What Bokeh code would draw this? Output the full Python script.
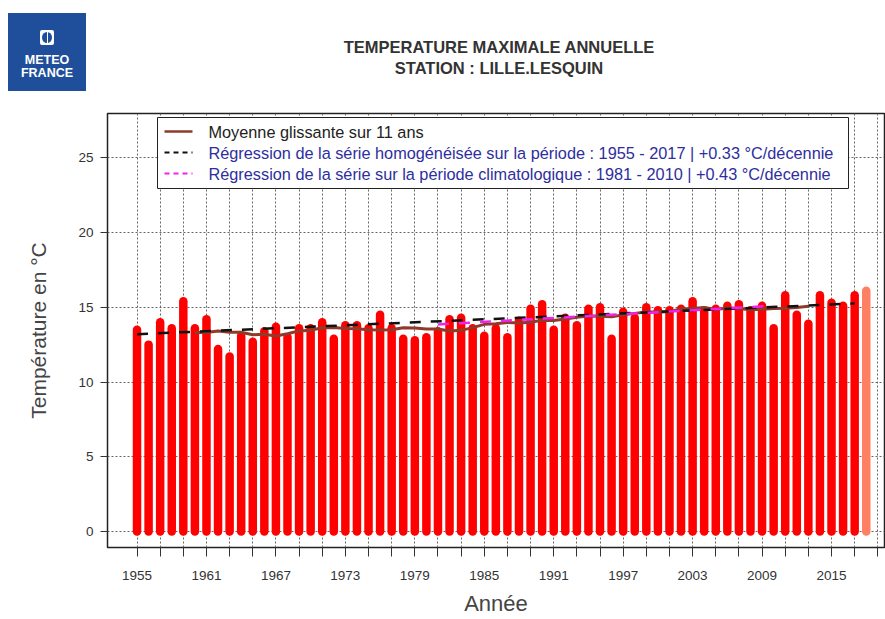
import numpy as np
import pandas as pd
from bokeh.plotting import figure
from bokeh.layouts import column
from bokeh.models import Range1d, FixedTicker, ColumnDataSource, Div
from bokeh.core.properties import value
from bokeh.embed import file_html
from bokeh.resources import INLINE

# ---------------- data ----------------
years = list(range(1955, 2019))
tmax = [13.5, 12.5, 14.0, 13.6, 15.4, 13.6, 14.2, 12.2, 11.7, 13.1,
        12.7, 13.4, 13.7, 13.0, 13.6, 13.6, 14.0, 12.9, 13.8, 13.8,
        13.6, 14.5, 13.6, 12.9, 12.8, 13.0, 13.4, 14.2, 14.3, 13.6,
        13.1, 13.6, 13.0, 14.1, 14.9, 15.2, 13.5, 14.3, 13.8, 14.9,
        15.0, 12.9, 14.7, 14.3, 15.0, 14.8, 14.8, 14.9, 15.4, 14.8,
        14.9, 15.1, 15.2, 14.8, 15.1, 13.6, 15.8, 14.5, 13.9, 15.8,
        15.3, 15.1, 15.8, 16.1]
provisional_years = [2018]
reg_hom_years = [1955, 2017]
reg_hom_values = [13.2, 15.25]
reg_clim_years = [1981, 2010]
reg_clim_values = [13.85, 15.1]
ma_window = 11

x_tick_years = list(range(1955, 2021, 2))
x_label_years = list(range(1955, 2016, 6))
y_ticks = [0, 5, 10, 15, 20, 25]

legend_labels = ["Moyenne glissante sur 11 ans",
                 "R\u00e9gression de la s\u00e9rie homog\u00e9n\u00e9is\u00e9e sur la p\u00e9riode : 1955 - 2017 | +0.33 \u00b0C/d\u00e9cennie",
                 "R\u00e9gression de la s\u00e9rie sur la p\u00e9riode climatologique : 1981 - 2010 | +0.43 \u00b0C/d\u00e9cennie"]
title_lines = ["TEMPERATURE MAXIMALE ANNUELLE", "STATION : LILLE.LESQUIN"]
logo_lines = ["METEO", "FRANCE"]

# ---------------- styles ----------------
FONT = value("Liberation Sans")
BAR_RED = "#ff0000"
BAR_PROV = "#ff7f62"
MA_COL = "#8e3b2c"
HOM_COL = "#111111"
CLIM_COL = "#f022f0"
LEG_BLUE = "#2e2e9e"
LOGO_BLUE = "#1f4f9a"

W = 885
HDR_H = 108
MAIN_H = 511
# frame geometry (page px)
FR_L, FR_R, FR_T, FR_B = 107, 884, 113, 547
X0 = 1952.45
PX_PER_YEAR = 11.575
X1 = X0 + (FR_R - FR_L) / PX_PER_YEAR
PX_PER_DEG = 14.95
Y_ZERO_PX = 531
Y0 = (Y_ZERO_PX - FR_B) / PX_PER_DEG
Y1 = (Y_ZERO_PX - FR_T) / PX_PER_DEG


def dx(px):
    return X0 + (px - FR_L) / PX_PER_YEAR


def dy(py):
    return (Y_ZERO_PX - py) / PX_PER_DEG


# ---------------- header (logo + title) ----------------
hdr_html = (
    '<div style="position:relative;width:%dpx;height:%dpx;font-family:\'Liberation Sans\',Arial,sans-serif;">' % (W, HDR_H)
    + '<div style="position:absolute;left:8px;top:13px;width:78px;height:78px;background:%s;"></div>' % LOGO_BLUE
    + '<div style="position:absolute;left:40px;top:30px;width:14px;height:15px;background:white;border-radius:2px;"></div>'
    + '<div style="position:absolute;left:42px;top:32px;width:10px;height:11px;border-radius:50%%;background:%s;"></div>' % LOGO_BLUE
    + '<div style="position:absolute;left:46.5px;top:32px;width:1.5px;height:11px;background:white;"></div>'
    + '<div style="position:absolute;left:8px;top:54px;width:78px;text-align:center;color:white;'
      'font-weight:bold;font-size:12.5px;line-height:13px;white-space:nowrap;">%s<br>%s</div>' % tuple(logo_lines)
    + '<div style="position:absolute;left:249px;top:37px;width:500px;text-align:center;color:#333333;'
      'font-weight:bold;font-size:16.5px;line-height:21px;white-space:nowrap;">%s<br>%s</div>' % tuple(title_lines)
    + '</div>'
)
hdr = Div(text=hdr_html, width=W, height=HDR_H, margin=0)

# ---------------- main plot ----------------
p = figure(width=W, height=MAIN_H, x_range=Range1d(X0, X1), y_range=Range1d(Y0, Y1),
           output_backend="svg", toolbar_location=None,
           min_border_left=FR_L, min_border_right=W - FR_R,
           min_border_top=FR_T - HDR_H, min_border_bottom=HDR_H + MAIN_H - FR_B)
p.title.visible = False
p.outline_line_color = "#222222"
p.outline_line_width = 1.5
p.background_fill_color = "white"
p.border_fill_color = "white"

# axes
p.xaxis.ticker = FixedTicker(ticks=x_tick_years)
p.xaxis.major_label_overrides = {yr: (str(yr) if yr in x_label_years else "") for yr in x_tick_years}
p.yaxis.ticker = FixedTicker(ticks=y_ticks)
for ax in (p.xaxis[0], p.yaxis[0]):
    ax.axis_line_color = None
    ax.major_tick_in = 0
    ax.minor_tick_line_color = None
    ax.major_tick_line_color = "#333333"
    ax.major_label_text_font = "Liberation Sans"
    ax.major_label_text_font_size = "13.5px"
    ax.major_label_text_color = "#333333"
    ax.axis_label_text_font = "Liberation Sans"
    ax.axis_label_text_font_style = "normal"
    ax.axis_label_text_color = "#444444"
p.xaxis.major_tick_out = 9
p.xaxis.major_label_standoff = 14
p.xaxis.axis_label = "Ann\u00e9e"
p.xaxis.axis_label_text_font_size = "22px"
p.xaxis.axis_label_standoff = 8
p.yaxis.major_tick_out = 7
p.yaxis.major_label_standoff = 7
p.yaxis.axis_label = "Temp\u00e9rature en \u00b0C"
p.yaxis.axis_label_text_font_size = "21px"
p.yaxis.axis_label_standoff = 25

p.xgrid.ticker = FixedTicker(ticks=x_tick_years)
p.ygrid.ticker = FixedTicker(ticks=y_ticks)
p.grid.grid_line_color = "#666666"
p.grid.grid_line_dash = "2 2"
p.grid.grid_line_width = 1

# bars (thick round-capped vertical lines, like R type="h")
df = pd.DataFrame({"year": years, "tmax": tmax})
df["color"] = [BAR_PROV if y in provisional_years else BAR_RED for y in years]
df["zero"] = 0.0
src = ColumnDataSource(df)
p.segment(x0="year", y0="zero", x1="year", y1="tmax", source=src,
          line_color="color", line_width=8.5, line_cap="round")

# moving average (11 years, centred) computed from the plotted values
ma = df["tmax"].rolling(ma_window, center=True).mean()
ma_df = pd.DataFrame({"year": df["year"], "ma": ma}).dropna()
p.line(x="year", y="ma", source=ColumnDataSource(ma_df), line_color=MA_COL, line_width=3)

# regressions
p.line(x=reg_hom_years, y=reg_hom_values, line_color=HOM_COL, line_width=2.5, line_dash="11 10")
p.line(x=reg_clim_years, y=reg_clim_values, line_color=CLIM_COL, line_width=2.5, line_dash="11 10")

# manual legend
p.quad(left=[dx(157)], right=[dx(848)], top=[dy(117)], bottom=[dy(188)],
       fill_color="white", line_color="#222222", line_width=1)
rows = [dy(131), dy(152), dy(173)]
p.segment(x0=[dx(164)], y0=[rows[0]], x1=[dx(192)], y1=[rows[0]], line_color=MA_COL, line_width=2.5)
p.segment(x0=[dx(164)], y0=[rows[1]], x1=[dx(192)], y1=[rows[1]], line_color=HOM_COL, line_width=2,
          line_dash="5 4")
p.segment(x0=[dx(164)], y0=[rows[2]], x1=[dx(192)], y1=[rows[2]], line_color=CLIM_COL, line_width=2,
          line_dash="5 4")
p.text(x=[dx(208)] * 3, y=rows, text=legend_labels,
       text_color=["#222222", LEG_BLUE, LEG_BLUE],
       text_font=FONT, text_font_size="16.3px", text_baseline="middle", text_align="left")

layout = column(hdr, p, spacing=0)
open("out.html", "w").write(file_html(layout, INLINE))
